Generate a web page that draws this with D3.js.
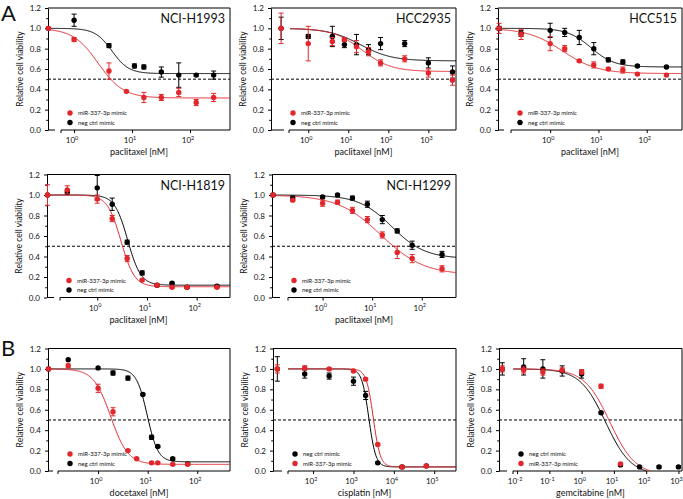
<!DOCTYPE html>
<html><head><meta charset="utf-8">
<script src="https://cdn.jsdelivr.net/npm/d3@7"></script>
<style>body{margin:0;background:#fff} svg{display:block} text{font-family:Lato,"Open Sans",sans-serif;fill:#111}</style>
</head><body><svg id="c" width="683" height="499"></svg>
<script>
// ---------- data ----------
const panelTitles = ["NCI-H1993", "HCC2935", "HCC515", "NCI-H1819", "NCI-H1299", "", "", ""];
const drugLabels = ["paclitaxel [nM]", "paclitaxel [nM]", "paclitaxel [nM]", "paclitaxel [nM]", "paclitaxel [nM]", "docetaxel [nM]", "cisplatin [nM]", "gemcitabine [nM]"];
const seriesNames = ["miR-337-3p mimic", "neg ctrl mimic"];
const yTickValues = [0, 0.2, 0.4, 0.6, 0.8, 1.0, 1.2];
const yMinorValues = [0.1, 0.3, 0.5, 0.7, 0.9, 1.1];
const cutoff = 0.5;

// NCI-H1993 (paclitaxel)
const h1993Dose = [0.36, 1, 4, 8, 11, 16, 32, 64, 128, 256];
const h1993Neg = [1.0, 1.08, 0.83, null, 0.63, 0.62, 0.57, 0.54, 0.54, 0.54];
const h1993NegErr = [0, 0.06, 0.02, null, 0.02, 0.02, 0.05, 0.12, 0.01, 0.04];
const h1993Mir = [1.0, 0.89, 0.58, 0.38, null, 0.32, 0.32, 0.37, 0.27, 0.32];
const h1993MirErr = [0, 0.02, 0.08, 0.01, null, 0.05, 0.03, 0.04, 0.03, 0.04];
const h1993NegFit = [1.0, 0.555, 4.5, 3];   // top, bottom, EC50, hill
const h1993MirFit = [1.0, 0.315, 2.6, 2];

// HCC2935 (paclitaxel)
const hcc2935Dose = [0.21, 1, 4, 8, 16, 32, 64, 256, 1000, 4000];
const hcc2935Neg = [1.0, 0.92, 0.92, 0.84, 0.84, 0.79, 0.85, 0.85, 0.66, 0.57];
const hcc2935NegErr = [0.11, 0.02, 0.1, 0.03, 0.1, 0.05, 0.06, 0.03, 0.05, 0.06];
const hcc2935Mir = [1.0, 0.85, 0.87, 0.89, 0.82, 0.77, 0.66, 0.70, 0.56, 0.49];
const hcc2935MirErr = [0.15, 0.17, 0.04, 0.02, 0.06, 0.04, 0.03, 0.03, 0.04, 0.05];
const hcc2935NegFit = [1.0, 0.68, 20, 1.1];
const hcc2935MirFit = [1.0, 0.575, 22, 1.2];

// HCC515 (paclitaxel)
const hcc515Dose = [0.088, 0.25, 1, 2, 4, 8, 16, 32, 64, 256];
const hcc515Neg = [1.0, 0.95, 0.98, 0.96, 0.91, 0.80, 0.69, 0.67, 0.63, 0.62];
const hcc515NegErr = [0.02, 0.03, 0.07, 0.04, 0.07, 0.06, 0.02, 0.02, 0.01, 0.01];
const hcc515Mir = [1.0, 0.94, 0.85, 0.80, 0.68, 0.64, 0.60, 0.59, 0.55, 0.54];
const hcc515MirErr = [0.05, 0.05, 0.07, 0.03, 0.01, 0.03, 0.01, 0.03, 0.01, 0.01];
const hcc515NegFit = [1.0, 0.62, 7, 1.8];
const hcc515MirFit = [1.0, 0.555, 1.8, 1.2];

// NCI-H1819 (paclitaxel)
const h1819Dose = [0.1, 0.25, 1, 2, 4, 8, 16, 32, 64, 256];
const h1819Neg = [1.0, 1.03, 1.07, 0.91, 0.54, 0.24, 0.12, 0.14, 0.10, 0.11];
const h1819NegErr = [0, 0.02, 0.12, 0.06, 0.02, 0.02, 0.01, 0.01, 0.01, 0.01];
const h1819Mir = [1.0, 1.05, 0.96, 0.77, 0.38, 0.17, 0.12, 0.10, 0.10, 0.10];
const h1819MirErr = [0.1, 0.04, 0.04, 0.03, 0.03, 0.01, 0.01, 0.01, 0.01, 0.01];
const h1819NegFit = [1.0, 0.12, 4.1, 3.3];
const h1819MirFit = [1.0, 0.105, 3.0, 3.2];

// NCI-H1299 (paclitaxel)
const h1299Dose = [0.1, 0.25, 1, 2, 4, 8, 16, 32, 64, 256];
const h1299Neg = [1.0, 0.97, 0.98, 1.0, 0.97, 0.91, 0.76, 0.65, 0.51, 0.42];
const h1299NegErr = [0.01, 0.02, 0.01, 0.01, 0.02, 0.03, 0.04, 0.02, 0.04, 0.03];
const h1299Mir = [1.0, 0.95, 0.92, 0.93, 0.85, 0.76, 0.61, 0.44, 0.38, 0.28];
const h1299MirErr = [0.01, 0.01, 0.03, 0.02, 0.03, 0.03, 0.03, 0.06, 0.04, 0.03];
const h1299NegFit = [1.0, 0.38, 25, 1.3];
const h1299MirFit = [1.0, 0.22, 15, 1.0];

// docetaxel
const doceDose = [0.1, 0.25, 1, 2, 4, 6, 8, 12, 16, 32, 64];
const doceNeg = [1.0, 1.09, 1.01, 0.96, 0.91, null, 0.75, 0.33, 0.24, 0.12, 0.07];
const doceNegErr = [0, 0, 0, 0.02, 0.02, null, 0.01, 0.02, 0.01, 0.01, 0.01];
const doceMir = [1.0, 1.03, 0.81, 0.58, 0.20, 0.12, null, 0.08, 0.08, 0.065, 0.065];
const doceMirErr = [0, 0.02, 0.04, 0.04, 0.01, 0.01, null, 0.01, 0.01, 0.01, 0.01];
const doceNegFit = [1.0, 0.09, 9.8, 4];
const doceMirFit = [1.0, 0.065, 1.8, 2.5];

// cisplatin
const cisDose = [13, 62, 250, 1000, 2000, 4000, 16000, 64000];
const cisNeg = [1.0, 0.95, 0.93, 0.88, 0.74, 0.08, 0.04, 0.05];
const cisNegErr = [0.12, 0.04, 0.03, 0.04, 0.04, 0.01, 0.01, 0.01];
const cisMir = [1.0, 1.01, 1.0, 0.98, 0.90, 0.26, 0.04, 0.05];
const cisMirErr = [0.04, 0.02, 0.01, 0.01, 0.01, 0.01, 0.01, 0.01];
const cisNegFit = [1.0, 0.04, 2400, 5];
const cisMirFit = [1.0, 0.04, 3100, 5];

// gemcitabine
const gemDose = [0.0035, 0.016, 0.063, 0.25, 1, 4, 16, 62.5, 250, 1000];
const gemNeg = [1.0, 1.02, 1.0, 0.98, 0.95, 0.57, 0.06, 0.04, 0.04, 0.04];
const gemNegErr = [0.06, 0.08, 0.09, 0.05, 0.04, 0.01, 0.01, 0.01, 0.01, 0.01];
const gemMir = [1.0, 0.99, 0.97, 0.99, 0.97, 0.83, 0.07, null, null, null];
const gemMirErr = [0.03, 0.03, 0.03, 0.02, 0.02, 0.02, 0.01, null, null, null];
const gemNegFit = [1.0, -0.04, 5.5, 1.1];
const gemMirFit = [1.0, -0.04, 7.5, 1.1];

// ---------- layout ----------
const RED = "#e3262c", BLACK = "#000";
const panels = [
  {L:48,  R:230, T:8,     B:130,   lx:[-0.45, 2.69], brk:[7,13],  cFrom:0.36,  dose:h1993Dose, neg:h1993Neg, negE:h1993NegErr, mir:h1993Mir, mirE:h1993MirErr, nf:h1993NegFit, mf:h1993MirFit, order:"mn"},
  {L:271, R:456, T:8,     B:130,   lx:[-0.93, 3.69], brk:[13,18], cFrom:0.35,  dose:hcc2935Dose, neg:hcc2935Neg, negE:hcc2935NegErr, mir:hcc2935Mir, mirE:hcc2935MirErr, nf:hcc2935NegFit, mf:hcc2935MirFit, order:"mn"},
  {L:498, R:682, T:8,     B:130,   lx:[-1.08, 2.73], brk:[6,13],  cFrom:0.09,  dose:hcc515Dose, neg:hcc515Neg, negE:hcc515NegErr, mir:hcc515Mir, mirE:hcc515MirErr, nf:hcc515NegFit, mf:hcc515MirFit, order:"mn"},
  {L:47,  R:230, T:174.5, B:297.5, lx:[-1.01, 2.67], brk:[7,13],  cFrom:0.1,   dose:h1819Dose, neg:h1819Neg, negE:h1819NegErr, mir:h1819Mir, mirE:h1819MirErr, nf:h1819NegFit, mf:h1819MirFit, order:"mn"},
  {L:272, R:456, T:174.5, B:297.5, lx:[-1.02, 2.69], brk:[8,16],  cFrom:0.1,   dose:h1299Dose, neg:h1299Neg, negE:h1299NegErr, mir:h1299Mir, mirE:h1299MirErr, nf:h1299NegFit, mf:h1299MirFit, order:"mn"},
  {L:48,  R:230, T:348.5, B:471,   lx:[-1.01, 2.66], brk:[5,10],  cFrom:0.1,   dose:doceDose, neg:doceNeg, negE:doceNegErr, mir:doceMir, mirE:doceMirErr, nf:doceNegFit, mf:doceMirFit, order:"mn"},
  {L:273, R:456, T:348.5, B:471,   lx:[1.007, 5.54], brk:[9,15],  cFrom:24,    dose:cisDose, neg:cisNeg, negE:cisNegErr, mir:cisMir, mirE:cisMirErr, nf:cisNegFit, mf:cisMirFit, order:"nm"},
  {L:499, R:682, T:348.5, B:471,   lx:[-2.56, 3.11], brk:[8,14],  cFrom:0.0076, dose:gemDose, neg:gemNeg, negE:gemNegErr, mir:gemMir, mirE:gemMirErr, nf:gemNegFit, mf:gemMirFit, order:"nm"}
];

const svg = d3.select("#c");
svg.append("text").attr("x", 1).attr("y", 21).attr("font-size", 22).text("A");
svg.append("text").attr("x", 1).attr("y", 356).attr("font-size", 22).text("B");

const fourPL = (p, x) => p[1] + (p[0] - p[1]) / (1 + Math.pow(x / p[2], p[3]));

panels.forEach((p, i) => {
  const g = svg.append("g");
  const x = d3.scaleLog().domain([Math.pow(10, p.lx[0]), Math.pow(10, p.lx[1])]).range([p.L, p.R]);
  const y = d3.scaleLinear().domain([0, 1.2]).range([p.B, p.T]);

  // frame (top and right)
  g.append("path").attr("d", `M${p.L},${p.T}H${p.R}V${p.B}`).attr("fill", "none").attr("stroke", "#000").attr("stroke-width", 1);
  // y axis
  const ya = g.append("g").attr("transform", `translate(${p.L},0)`)
    .call(d3.axisLeft(y).tickValues(yTickValues).tickFormat(d3.format(".1f")).tickSize(3).tickSizeOuter(0));
  ya.selectAll("text").attr("font-size", 8).attr("font-family", "Lato").attr("dx", "-1");
  ya.select(".domain").attr("stroke", "#000");
  g.append("g").attr("transform", `translate(${p.L},0)`)
    .call(d3.axisLeft(y).tickValues(yMinorValues).tickFormat("").tickSize(1.8).tickSizeOuter(0))
    .select(".domain").remove();

  // x axis with break
  const bx0 = p.L + p.brk[0], bx1 = p.L + p.brk[1];
  g.append("path").attr("d", `M${p.L},${p.B}H${bx0}M${bx1},${p.B}H${p.R}`).attr("stroke", "#000").attr("fill", "none");
  g.append("path").attr("d", `M${bx1},${p.B}v3`).attr("stroke", "#000");
  const lo = Math.ceil(Math.log10(x.invert(bx1 + 2))), hi = Math.floor(p.lx[1] + 0.05);
  const decades = d3.range(lo, hi + 1).filter(e => x(Math.pow(10, e)) <= p.R + 0.5);
  const xa = g.append("g").attr("transform", `translate(0,${p.B})`)
    .call(d3.axisBottom(x).tickValues(decades.map(e => Math.pow(10, e))).tickFormat("").tickSize(3).tickSizeOuter(0));
  xa.select(".domain").remove();
  decades.forEach(e => {
    const t = g.append("text").attr("x", x(Math.pow(10, e)) - 2).attr("y", p.B + 13)
      .attr("font-size", 8).attr("text-anchor", "middle");
    t.append("tspan").text("10");
    t.append("tspan").attr("font-size", 5.5).attr("dy", -3.5).text(String(e));
  });

  // cutoff line
  g.append("line").attr("x1", p.L).attr("x2", p.R).attr("y1", y(cutoff)).attr("y2", y(cutoff))
    .attr("stroke", "#000").attr("stroke-dasharray", "3,2").attr("stroke-width", 1);

  // titles
  if (panelTitles[i]) g.append("text").attr("x", p.R - 5).attr("y", p.T + 15).attr("text-anchor", "end")
    .attr("font-size", 12.5).text(panelTitles[i]);
  g.append("text").attr("transform", `translate(${p.L - 25},${(p.T + p.B) / 2}) rotate(-90)`)
    .attr("text-anchor", "middle").attr("font-size", 8.5).text("Relative cell viability");
  g.append("text").attr("x", (p.L + p.R) / 2).attr("y", p.B + 25).attr("text-anchor", "middle")
    .attr("font-size", 9).text(drugLabels[i]);

  // curves
  const xs = d3.range(0, 301).map(k => Math.pow(10, Math.log10(p.cFrom) + (p.lx[1] - Math.log10(p.cFrom)) * k / 300));
  const line = d3.line().x(d => x(d[0])).y(d => y(d[1]));
  const drawCurve = (fit, col) => {
    const pts = xs.map(v => [v, fourPL(fit, v)]).filter(d => d[1] >= 0);
    g.append("path").attr("d", line(pts)).attr("fill", "none").attr("stroke", col).attr("stroke-width", 1);
  };
  const drawPts = (vals, errs, col) => {
    p.dose.forEach((d, k) => {
      const v = vals[k]; if (v == null) return;
      const e = errs[k] || 0;
      if (e > 0) {
        g.append("path").attr("d", `M${x(d)},${y(v - e)}V${y(v + e)}M${x(d) - 2.5},${y(v - e)}h5M${x(d) - 2.5},${y(v + e)}h5`)
          .attr("stroke", col).attr("stroke-width", 1).attr("fill", "none");
      }
      g.append("circle").attr("cx", x(d)).attr("cy", y(v)).attr("r", 2.7).attr("fill", col);
    });
  };
  drawCurve(p.nf, BLACK);
  drawCurve(p.mf, RED);
  drawPts(p.neg, p.negE, BLACK);
  drawPts(p.mir, p.mirE, RED);

  // legend
  const items = p.order === "mn" ? [[seriesNames[0], RED], [seriesNames[1], BLACK]] : [[seriesNames[1], BLACK], [seriesNames[0], RED]];
  items.forEach((it, k) => {
    const ly = p.B - 17 + k * 9.5;
    g.append("circle").attr("cx", p.L + 22).attr("cy", ly).attr("r", 2.7).attr("fill", it[1]);
    g.append("text").attr("x", p.L + 30).attr("y", ly).attr("dy", "0.35em").attr("font-size", 6).text(it[0]);
  });
});
</script></body></html>
